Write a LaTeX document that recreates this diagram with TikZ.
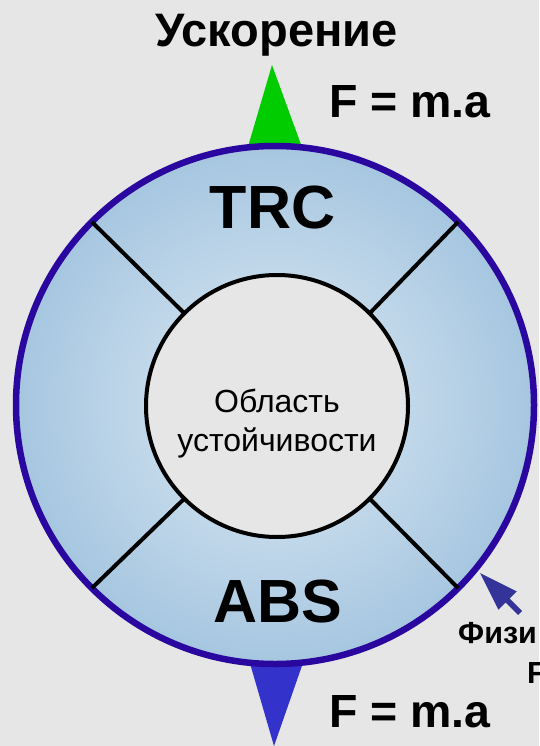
\documentclass[tikz,border=0pt]{standalone}
\usepackage{fontspec}
\setmainfont{Liberation Sans}
\definecolor{bgc}{RGB}{230,230,230}
\definecolor{ringc}{RGB}{42,8,160}
\definecolor{innerblue}{RGB}{222,234,244}
\definecolor{outerblue}{RGB}{166,198,224}
\definecolor{greenc}{RGB}{0,204,0}
\definecolor{bluetri}{RGB}{51,51,204}
\definecolor{arrowc}{RGB}{51,51,153}
\tikzset{
  ringnode/.style={circle, draw=ringc, line width=6.5pt, inner color=innerblue, outer color=outerblue, minimum size=518pt, inner sep=0pt, outer sep=0pt},
  corenode/.style={circle, draw=black, line width=4pt, fill=bgc, minimum size=262pt, inner sep=0pt, outer sep=0pt},
  coretextstyle/.style={align=center, inner sep=0pt, font=\fontsize{32}{39}\selectfont},
  spoke/.style={draw=black, line width=4pt},
  bigbold/.style={font=\fontsize{47}{50}\selectfont\bfseries, anchor=base, inner sep=0pt},
  labelbold/.style={font=\fontsize{61}{64}\selectfont\bfseries, anchor=base, inner sep=0pt},
  formula/.style={font=\fontsize{46.5}{50}\selectfont\bfseries, anchor=base west, inner sep=0pt},
  smallbold/.style={font=\fontsize{30.5}{34}\selectfont\bfseries, anchor=base west, inner sep=0pt}
}
\begin{document}
\begin{tikzpicture}[x=1pt,y=-1pt]
\fill[bgc] (0,0) rectangle (539,746);
\useasboundingbox (0,0) rectangle (539,746);
% triangles
\fill[greenc] (247,150) -- (303,150) -- (272,65) -- cycle;
\fill[bluetri] (249,660) -- (304,660) -- (274,746) -- cycle;
% ring
\node[ringnode] (outer) at (275,405) {};
\node[corenode] (core) at (277,406) {};
\node[coretextstyle] (coretext) at (277,424) {Область\\устойчивости};
\draw[spoke] (core.45) -- (outer.45);
\draw[spoke] (core.135) -- (outer.135);
\draw[spoke] (core.225) -- (outer.225);
\draw[spoke] (core.315) -- (outer.315);
% labels
\node[bigbold] (acc) at (276.5,47) {Ускорение};
\node[labelbold] (trc) at (272.5,228) {TRC};
\node[labelbold] (abs) at (278,622) {ABS};
\node[formula] (f1) at (329,118) {F = m.a};
\node[formula] (f2) at (329,727) {F = m.a};
\node[smallbold] (phys) at (458,643) {Физи};
\node[smallbold] (phys2) at (527,683) {F};
% small arrow
\fill[arrowc] (480,573) -- (516.8,591.4) -- (509.6,598.6) -- (522,611) -- (518,615) -- (505.6,602.6) -- (498.4,609.8) -- cycle;
\end{tikzpicture}
\end{document}
